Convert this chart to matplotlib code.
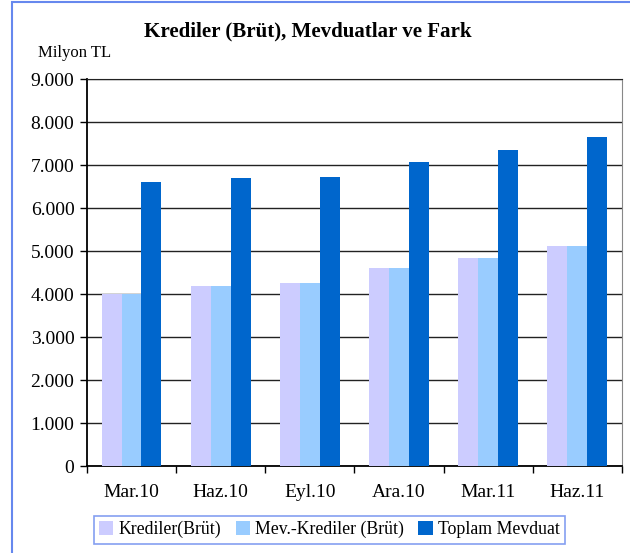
import matplotlib.pyplot as plt
import numpy as np
from matplotlib.patches import Rectangle
from matplotlib.ticker import FuncFormatter, FixedLocator

# values (Milyon TL)
periods = ['Mar.10', 'Haz.10', 'Eyl.10', 'Ara.10', 'Mar.11', 'Haz.11']
krediler = [4005, 4195, 4265, 4615, 4850, 5125]
mev_krediler = [4005, 4195, 4265, 4615, 4850, 5125]
toplam_mevduat = [6610, 6700, 6730, 7075, 7355, 7655]

series_names = ['Krediler(Brüt)', 'Mev.-Krediler (Brüt)', 'Toplam Mevduat']
colors = ['#CCCCFF', '#99CCFF', '#0066CC']

plt.rcParams['font.family'] = ['Liberation Serif', 'DejaVu Serif']

fig = plt.figure(figsize=(6.3, 5.53), dpi=100)
ax = fig.add_axes([0.138, 0.157, 0.849, 0.700])

x = np.arange(len(periods))
w = 0.224
for i, (vals, name, c) in enumerate(zip([krediler, mev_krediler, toplam_mevduat], series_names, colors)):
    ax.bar(x + (i - 1) * w, vals, width=w, color=c, label=name, zorder=3)

ax.set_xlim(-0.5, len(periods) - 0.5)
ax.set_ylim(0, 9000)
ax.set_yticks(np.arange(0, 9001, 1000))
ax.yaxis.set_major_formatter(FuncFormatter(lambda v, p: f'{int(v):,}'.replace(',', '.')))
ax.yaxis.grid(True, color='#222222', linewidth=1.0, zorder=0)

ax.set_xticks(x)
ax.set_xticklabels(periods)
ax.xaxis.set_minor_locator(FixedLocator(np.arange(-0.5, len(periods), 1.0)))
ax.tick_params(axis='x', which='major', length=0, pad=13, labelsize=14)
ax.tick_params(axis='x', which='minor', length=5, width=1, direction='out')
ax.tick_params(axis='y', length=5, width=1, direction='out', labelsize=14, pad=4)

for side in ['left', 'bottom']:
    ax.spines[side].set_color('black')
    ax.spines[side].set_linewidth(1.3)
ax.spines['top'].set_color('#222222')
ax.spines['right'].set_color('#888888')

fig.text(0.488, 0.943, 'Krediler (Brüt), Mevduatlar ve Fark', ha='center', va='center',
         fontsize=15.1, fontweight='bold')
fig.text(0.06, 0.905, 'Milyon TL', ha='left', va='center', fontsize=12)

leg = fig.legend(loc='center', bbox_to_anchor=(0.523, 0.042), ncol=3, fontsize=12.8,
                 frameon=True, fancybox=False, handlelength=0.8, handleheight=0.8,
                 handletextpad=0.3, columnspacing=0.8, borderpad=0.3)
leg.get_frame().set_edgecolor('#6688EE')
leg.get_frame().set_linewidth(1.2)

# outer chart border
fig.patches.append(Rectangle((0.019, -0.01), 1.0, 1.006, transform=fig.transFigure,
                             fill=False, edgecolor='#6688EE', linewidth=1.5))

fig.savefig('out.png', dpi=100)
